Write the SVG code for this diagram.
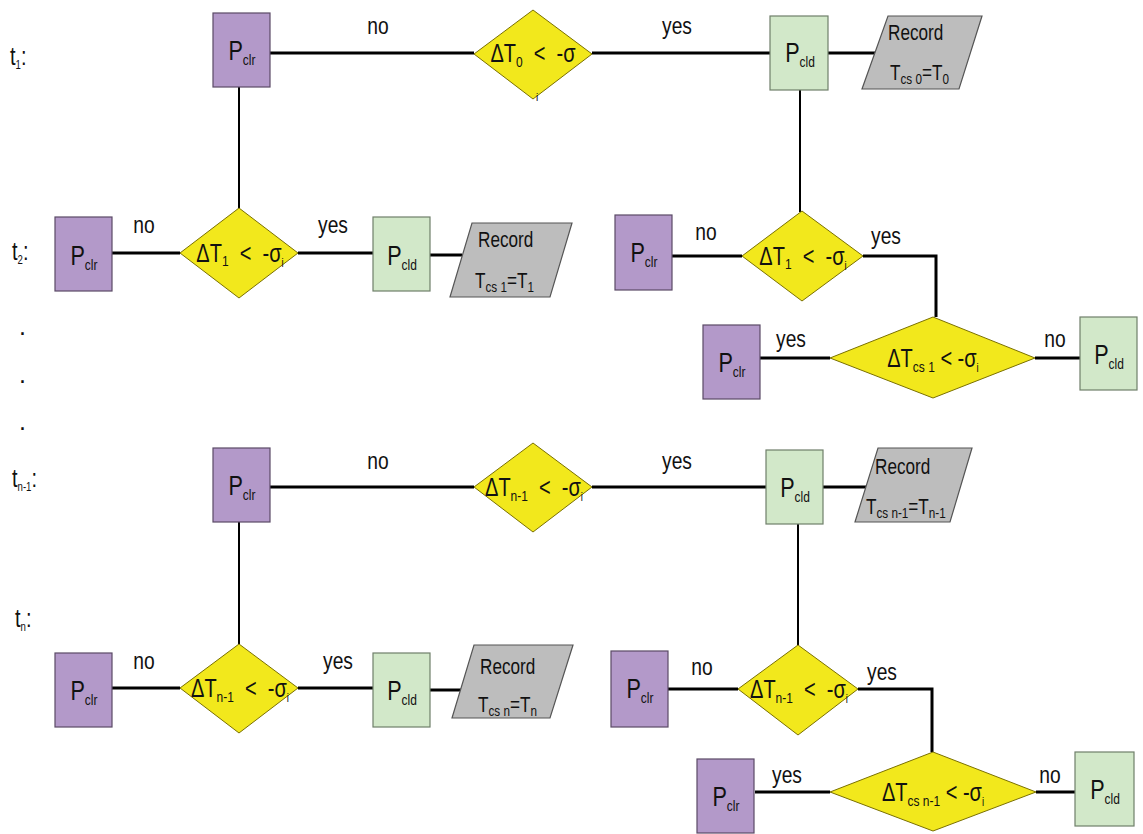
<svg xmlns="http://www.w3.org/2000/svg" width="1143" height="834" viewBox="0 0 1143 834">
<style>
text{font-family:"Liberation Sans",Arial,sans-serif;fill:#111;white-space:pre}
.clr{fill:#b399c9;stroke:#5a4a66;stroke-width:1.2}
.cld{fill:#d2e8c9;stroke:#6f7f6a;stroke-width:1.2}
.dia{fill:#f2e81c;stroke:#7a7000;stroke-width:1}
.rec{fill:#bdbdbd;stroke:#555;stroke-width:1.2}
.lbl{font-size:25px}
.pt{font-size:27px;text-anchor:middle}
.dt{font-size:25px;text-anchor:middle}
.rt{font-size:22px}
.yn{font-size:24px;text-anchor:middle}
.s{font-size:15px}
.si{font-size:12px}
.conn path{fill:none;stroke:#000;stroke-width:3}
.conn path.v{stroke-width:2}
</style>
<g id="connectors" class="conn">
<path d="M270,53 H474"/><path d="M592,53 H770"/><path d="M828,53 H876"/>
<path class="v" d="M239,87 V208"/><path class="v" d="M800,90 V212"/>
<path d="M112,253 H180"/><path d="M298,253 H373"/><path d="M430,255 H462"/>
<path d="M672,256 H742"/><path d="M863,256 H936 V317"/>
<path d="M760,358 H830"/><path d="M1035,358 H1080"/>
<path d="M270,487 H474"/><path d="M592,487 H766"/><path d="M823,487 H866"/>
<path class="v" d="M239,522 V644"/><path class="v" d="M798,524 V645"/>
<path d="M112,688 H180"/><path d="M298,688 H373"/><path d="M430,690 H461"/>
<path d="M668,689 H738"/><path d="M858,689 H932 V752"/>
<path d="M755,792 H830"/><path d="M1036,792 H1075"/>
</g>
<g id="edge-labels">
<text class="yn" transform="translate(378 34) scale(.8 1)">no</text>
<text class="yn" transform="translate(677 34) scale(.8 1)">yes</text>
<text class="yn" transform="translate(144 233) scale(.8 1)">no</text>
<text class="yn" transform="translate(333 233) scale(.8 1)">yes</text>
<text class="yn" transform="translate(706 240) scale(.8 1)">no</text>
<text class="yn" transform="translate(886 244) scale(.8 1)">yes</text>
<text class="yn" transform="translate(791 347) scale(.8 1)">yes</text>
<text class="yn" transform="translate(1055 347) scale(.8 1)">no</text>
<text class="yn" transform="translate(378 469) scale(.8 1)">no</text>
<text class="yn" transform="translate(677 469) scale(.8 1)">yes</text>
<text class="yn" transform="translate(144 669) scale(.8 1)">no</text>
<text class="yn" transform="translate(338 669) scale(.8 1)">yes</text>
<text class="yn" transform="translate(702 675) scale(.8 1)">no</text>
<text class="yn" transform="translate(882 680) scale(.8 1)">yes</text>
<text class="yn" transform="translate(787 783) scale(.8 1)">yes</text>
<text class="yn" transform="translate(1050 783) scale(.8 1)">no</text>
</g>
<g id="time-labels">
<text class="lbl" transform="translate(10 65) scale(.8 1)">t<tspan class="si" dy="4">1</tspan><tspan dy="-4">:</tspan></text>
<text class="lbl" transform="translate(12 260) scale(.8 1)">t<tspan class="si" dy="4">2</tspan><tspan dy="-4">:</tspan></text>
<text class="lbl" x="19" y="335">.</text>
<text class="lbl" x="19" y="383">.</text>
<text class="lbl" x="19" y="430">.</text>
<text class="lbl" transform="translate(12 487) scale(.8 1)">t<tspan class="si" dy="4">n-1</tspan><tspan dy="-4">:</tspan></text>
<text class="lbl" transform="translate(15 627) scale(.8 1)">t<tspan class="si" dy="4">n</tspan><tspan dy="-4">:</tspan></text>
</g>
<!-- Row 1 -->
<g id="r1-pclr"><rect class="clr" x="213" y="13" width="57" height="74"/><text class="pt" transform="translate(242 60) scale(.8 1)">P<tspan class="s" dy="5">clr</tspan></text></g>
<g id="r1-dec"><polygon class="dia" points="474,54 533,10 592,54 533,99"/><text class="dt" transform="translate(533 62) scale(.8 1)">ΔT<tspan class="s" dy="5">0</tspan><tspan dy="-5">  &lt;  -σ</tspan></text><text x="536" y="101" font-size="10">i</text></g>
<g id="r1-pcld"><rect class="cld" x="770" y="16" width="58" height="74"/><text class="pt" transform="translate(800 62) scale(.8 1)">P<tspan class="s" dy="5">cld</tspan></text></g>
<g id="r1-rec"><polygon class="rec" points="888,16 982,16 959,89 862,89"/><text class="rt" transform="translate(888 40) scale(.78 1)">Record</text><text class="rt" transform="translate(890 80) scale(.78 1)">T<tspan class="s" dy="4">cs 0</tspan><tspan dy="-4">=T</tspan><tspan class="s" dy="4">0</tspan></text></g>
<!-- Row 2 left -->
<g id="r2-pclr"><rect class="clr" x="55" y="217" width="57" height="74"/><text class="pt" transform="translate(84 265) scale(.8 1)">P<tspan class="s" dy="5">clr</tspan></text></g>
<g id="r2-dec"><polygon class="dia" points="180,253 239,208 298,253 239,298"/><text class="dt" transform="translate(240 262) scale(.8 1)">ΔT<tspan class="s" dy="4">1</tspan><tspan dy="-4">  &lt;  -σ</tspan><tspan class="si" dy="5">i</tspan></text></g>
<g id="r2-pcld"><rect class="cld" x="373" y="217" width="57" height="74"/><text class="pt" transform="translate(402 265) scale(.8 1)">P<tspan class="s" dy="5">cld</tspan></text></g>
<g id="r2-rec"><polygon class="rec" points="472,223 572,223 550,297 450,297"/><text class="rt" transform="translate(478 247) scale(.78 1)">Record</text><text class="rt" transform="translate(475 288) scale(.78 1)">T<tspan class="s" dy="4">cs 1</tspan><tspan dy="-4">=T</tspan><tspan class="s" dy="4">1</tspan></text></g>
<!-- Row 2 right -->
<g id="r2b-pclr"><rect class="clr" x="615" y="215" width="57" height="75"/><text class="pt" transform="translate(644 262) scale(.8 1)">P<tspan class="s" dy="5">clr</tspan></text></g>
<g id="r2b-dec"><polygon class="dia" points="742,256 802,211 863,256 802,301"/><text class="dt" transform="translate(803 265) scale(.8 1)">ΔT<tspan class="s" dy="4">1</tspan><tspan dy="-4">  &lt;  -σ</tspan><tspan class="si" dy="5">i</tspan></text></g>
<g id="r2b-dec2"><polygon class="dia" points="830,358 933,317 1035,358 933,398"/><text class="dt" transform="translate(933 367) scale(.8 1)">ΔT<tspan class="s" dy="5">cs 1</tspan><tspan dy="-5"> &lt; -σ</tspan><tspan class="si" dy="5">i</tspan></text></g>
<g id="r2b-pclr2"><rect class="clr" x="703" y="325" width="57" height="74"/><text class="pt" transform="translate(732 372) scale(.8 1)">P<tspan class="s" dy="5">clr</tspan></text></g>
<g id="r2b-pcld2"><rect class="cld" x="1080" y="317" width="57" height="73"/><text class="pt" transform="translate(1109 364) scale(.8 1)">P<tspan class="s" dy="5">cld</tspan></text></g>
<!-- Row 3 -->
<g id="r3-pclr"><rect class="clr" x="213" y="448" width="57" height="74"/><text class="pt" transform="translate(242 495) scale(.8 1)">P<tspan class="s" dy="5">clr</tspan></text></g>
<g id="r3-dec"><polygon class="dia" points="474,487 533,443 592,487 533,532"/><text class="dt" transform="translate(534 496) scale(.8 1)">ΔT<tspan class="s" dy="5">n-1</tspan><tspan dy="-5">  &lt;  -σ</tspan><tspan class="si" dy="5">i</tspan></text></g>
<g id="r3-pcld"><rect class="cld" x="766" y="450" width="57" height="74"/><text class="pt" transform="translate(795 497) scale(.8 1)">P<tspan class="s" dy="5">cld</tspan></text></g>
<g id="r3-rec"><polygon class="rec" points="878,448 972,448 950,522 855,522"/><text class="rt" transform="translate(875 474) scale(.78 1)">Record</text><text class="rt" transform="translate(866 514) scale(.78 1)">T<tspan class="s" dy="4">cs n-1</tspan><tspan dy="-4">=T</tspan><tspan class="s" dy="4">n-1</tspan></text></g>
<!-- Row 4 left -->
<g id="r4-pclr"><rect class="clr" x="55" y="653" width="57" height="74"/><text class="pt" transform="translate(84 700) scale(.8 1)">P<tspan class="s" dy="5">clr</tspan></text></g>
<g id="r4-dec"><polygon class="dia" points="180,688 239,644 298,688 239,733"/><text class="dt" transform="translate(240 697) scale(.8 1)">ΔT<tspan class="s" dy="5">n-1</tspan><tspan dy="-5">  &lt;  -σ</tspan><tspan class="si" dy="5">i</tspan></text></g>
<g id="r4-pcld"><rect class="cld" x="373" y="653" width="57" height="74"/><text class="pt" transform="translate(402 700) scale(.8 1)">P<tspan class="s" dy="5">cld</tspan></text></g>
<g id="r4-rec"><polygon class="rec" points="474,645 573,645 550,718 452,718"/><text class="rt" transform="translate(480 674) scale(.78 1)">Record</text><text class="rt" transform="translate(478 712) scale(.78 1)">T<tspan class="s" dy="4">cs n</tspan><tspan dy="-4">=T</tspan><tspan class="s" dy="4">n</tspan></text></g>
<!-- Row 4 right -->
<g id="r4b-pclr"><rect class="clr" x="611" y="651" width="57" height="76"/><text class="pt" transform="translate(640 698) scale(.8 1)">P<tspan class="s" dy="5">clr</tspan></text></g>
<g id="r4b-dec"><polygon class="dia" points="738,689 798,645 858,689 798,735"/><text class="dt" transform="translate(799 698) scale(.8 1)">ΔT<tspan class="s" dy="5">n-1</tspan><tspan dy="-5">  &lt;  -σ</tspan><tspan class="si" dy="5">i</tspan></text></g>
<g id="r4b-dec2"><polygon class="dia" points="830,792 933,752 1036,792 933,831"/><text class="dt" transform="translate(933 801) scale(.8 1)">ΔT<tspan class="s" dy="5">cs n-1</tspan><tspan dy="-5"> &lt; -σ</tspan><tspan class="si" dy="5">i</tspan></text></g>
<g id="r4b-pclr2"><rect class="clr" x="697" y="759" width="57" height="74"/><text class="pt" transform="translate(726 806) scale(.8 1)">P<tspan class="s" dy="5">clr</tspan></text></g>
<g id="r4b-pcld2"><rect class="cld" x="1075" y="752" width="59" height="74"/><text class="pt" transform="translate(1105 799) scale(.8 1)">P<tspan class="s" dy="5">cld</tspan></text></g>
</svg>
